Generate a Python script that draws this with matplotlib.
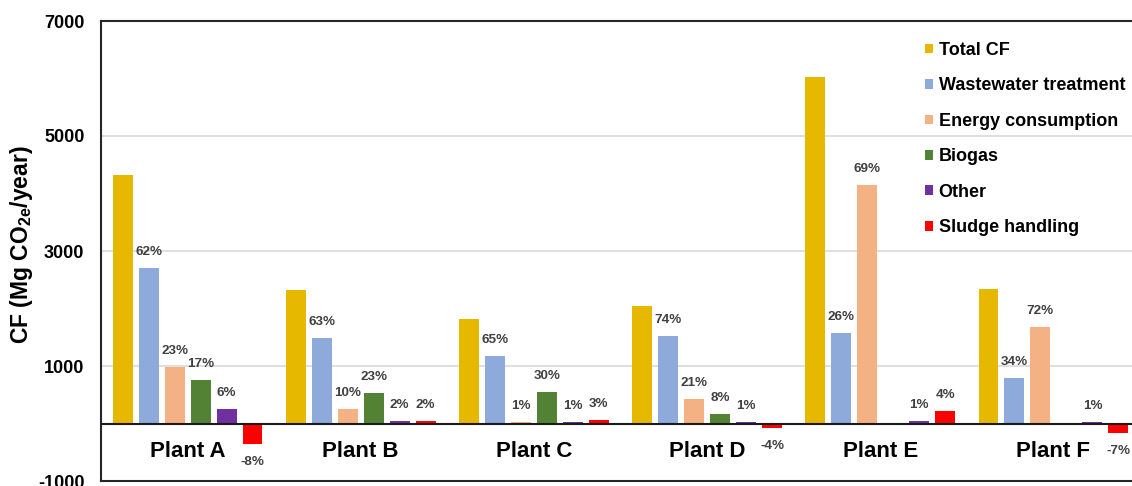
import matplotlib
matplotlib.use("Agg")
import matplotlib.pyplot as plt
from matplotlib.patches import Patch
import numpy as np

plt.rcParams['font.family'] = ['Liberation Sans', 'DejaVu Sans']
plt.rcParams['mathtext.fontset'] = 'custom'
plt.rcParams['mathtext.rm'] = 'Liberation Sans:bold'
plt.rcParams['mathtext.bf'] = 'Liberation Sans:bold'

plants = ['Plant A', 'Plant B', 'Plant C', 'Plant D', 'Plant E', 'Plant F']
series_names = ['Total CF', 'Wastewater treatment', 'Energy consumption',
                'Biogas', 'Other', 'Sludge handling']

total = [4330, 2330, 1820, 2050, 6020, 2345]
wastewater = [2700, 1480, 1170, 1520, 1577, 795]
energy = [990, 245, 18, 432, 4142, 1683]
biogas = [763, 537, 555, 168, 0, 0]
other = [260, 45, 20, 22, 50, 25]
sludge = [-350, 38, 62, -85, 218, -160]

wastewater_pct = ['62%', '63%', '65%', '74%', '26%', '34%']
energy_pct = ['23%', '10%', '1%', '21%', '69%', '72%']
biogas_pct = ['17%', '23%', '30%', '8%', '', '']
other_pct = ['6%', '2%', '1%', '1%', '1%', '1%']
sludge_pct = ['-8%', '2%', '3%', '-4%', '4%', '-7%']

yticks = [-1000, 1000, 3000, 5000, 7000]

colors = ['#E6B800', '#8EAADB', '#F4B183', '#548235', '#7030A0', '#FF0000']

values = [total, wastewater, energy, biogas, other, sludge]
labels = [None, wastewater_pct, energy_pct, biogas_pct, other_pct, sludge_pct]

W, H = 1132, 486
fig = plt.figure(figsize=(W / 100, H / 100), dpi=100)
ax = fig.add_axes([101 / W, 5 / H, (1140 - 101) / W, (481 - 21) / H])

x = np.arange(len(plants))
pitch = 0.15
bw = 0.115
for i, (vals, col) in enumerate(zip(values, colors)):
    xs = x + (i - 2.5) * pitch
    ax.bar(xs, vals, width=bw, color=col, zorder=3)
    if labels[i] is not None:
        for xx, v, lab in zip(xs, vals, labels[i]):
            if not lab:
                continue
            off = 11.5 if v >= 0 else -13
            ax.annotate(lab, (xx, v), xytext=(0, off), textcoords='offset points',
                        ha='center', va='center', fontsize=9.7, fontweight='bold',
                        color='#404040', zorder=4)

ax.set_xlim(-0.5, len(plants) - 0.5)
ax.set_ylim(-1000, 7000)
ax.set_yticks(yticks)
ax.set_yticklabels([str(t) for t in yticks], fontsize=13, fontweight='bold')
ax.tick_params(axis='y', length=0, pad=12)
ax.set_xticks([])
for yv in [1000, 3000, 5000]:
    ax.axhline(yv, color='#D9D9D9', lw=1.2, zorder=1)
ax.axhline(0, color='#1a1a1a', lw=1.5, zorder=4)

for name in ['left', 'top', 'bottom']:
    ax.spines[name].set_color('#262626')
    ax.spines[name].set_linewidth(1.5)
ax.spines['right'].set_visible(False)

for xx, p in zip(x, plants):
    ax.text(xx, -490, p, ha='center', va='center', fontsize=16, fontweight='bold',
            color='black')

fig.text(22 / W, 1 - 245 / H, r'CF (Mg CO$_{\mathbf{2e}}$/year)', rotation=90,
         ha='center', va='center', fontsize=16.5, fontweight='bold')

handles = [Patch(facecolor=c, edgecolor='none') for c in colors]
leg = ax.legend(handles, series_names, loc='upper left',
                bbox_to_anchor=(925 / W, 1 - 42 / H), bbox_transform=fig.transFigure,
                frameon=False, borderpad=0, borderaxespad=0,
                handlelength=0.45, handleheight=0.45, handletextpad=0.3,
                labelspacing=1.02, prop={'weight': 'bold', 'size': 13})

fig.savefig('out.png', dpi=100)
